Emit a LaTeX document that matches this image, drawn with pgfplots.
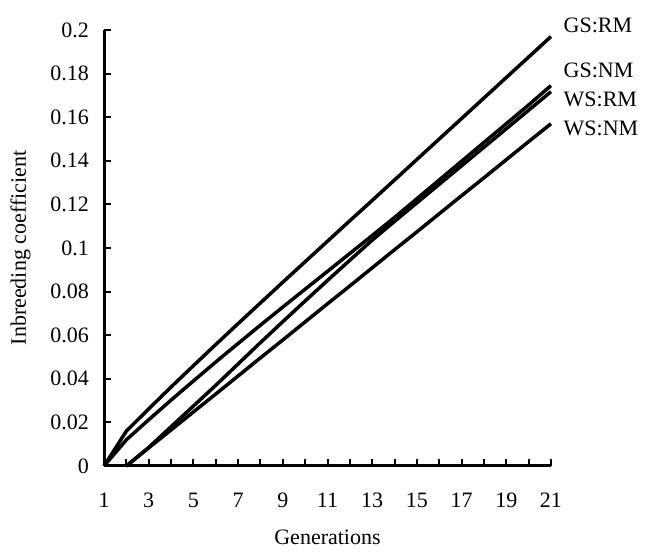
\documentclass[border=0pt]{standalone}
\usepackage{pgfplots}
\pgfplotsset{compat=1.18}
\usepackage{fontspec}
\setmainfont{Liberation Serif}
\pgfplotsset{curve/.style={black, line width=1.75pt, line join=round, mark=none}}
\begin{document}
\begin{tikzpicture}
\begin{axis}[
  scale only axis,
  width=223.5pt, height=218pt,
  xmin=1, xmax=21, ymin=0, ymax=0.2,
  axis x line=bottom, axis y line=left,
  axis line style={-, line width=1.5pt},
  clip=false,
  xtick align=inside, ytick align=inside,
  major tick length=3.5pt, minor tick length=3.5pt,
  tick style={line width=1pt, black},
  xtick={1,3,...,21},
  minor xtick={2,4,...,20},
  ytick={0,0.02,...,0.2},
  yticklabels={0,0.02,0.04,0.06,0.08,0.1,0.12,0.14,0.16,0.18,0.2},
  xticklabels={1,3,5,7,9,11,13,15,17,19,21},
  every tick label/.append style={font=\fontsize{11}{13}\selectfont},
  xticklabel style={yshift=-10pt},
  yticklabel style={xshift=-4pt},
  label style={font=\fontsize{11}{13}\selectfont},
  xlabel={Generations},
  ylabel={Inbreeding coefficient},
  xlabel style={yshift=-4pt},
  ylabel style={yshift=3pt},
]
% GS:RM
\addplot[curve] coordinates {(1,0) (2,0.016) (3,0.0262) (4,0.0362) (5,0.046) (6,0.0557) (7,0.0653) (8,0.0748) (9,0.0843) (10,0.0937) (11,0.1031) (12,0.1125) (13,0.1218) (14,0.1312) (15,0.1406) (16,0.15) (17,0.1594) (18,0.1688) (19,0.1782) (20,0.1876) (21,0.197)};
% GS:NM
\addplot[curve] coordinates {(1,0) (2,0.012) (3,0.0212) (4,0.0302) (5,0.039) (6,0.0477) (7,0.0562) (8,0.0646) (9,0.0729) (10,0.0811) (11,0.0893) (12,0.0975) (13,0.1057) (14,0.114) (15,0.1226) (16,0.1312) (17,0.1398) (18,0.1484) (19,0.157) (20,0.1656) (21,0.1745)};
% WS:RM
\addplot[curve] coordinates {(2,0) (3,0.0085) (4,0.018) (5,0.0275) (6,0.037) (7,0.0468) (8,0.0566) (9,0.0662) (10,0.0757) (11,0.0851) (12,0.0944) (13,0.1036) (14,0.1122) (15,0.1207) (16,0.1292) (17,0.1377) (18,0.1462) (19,0.1547) (20,0.1632) (21,0.1717)};
% WS:NM
\addplot[curve] coordinates {(2,0) (3,0.0083) (4,0.0165) (5,0.0248) (6,0.033) (7,0.0413) (8,0.0496) (9,0.0578) (10,0.0661) (11,0.0744) (12,0.0826) (13,0.0909) (14,0.0992) (15,0.1074) (16,0.1157) (17,0.124) (18,0.1322) (19,0.1405) (20,0.1488) (21,0.157)};
\begin{scope}[every node/.style={anchor=west, inner sep=0pt, font=\fontsize{11}{13}\selectfont}]
\node at (axis cs:21.55,0.2023) {GS:RM};
\node at (axis cs:21.55,0.1817) {GS:NM};
\node at (axis cs:21.55,0.1680) {WS:RM};
\node at (axis cs:21.55,0.1550) {WS:NM};
\end{scope}
\path (rel axis cs:-0.2327,-0.1927) rectangle (rel axis cs:1.2528,1.0688);
\end{axis}
\end{tikzpicture}
\end{document}
